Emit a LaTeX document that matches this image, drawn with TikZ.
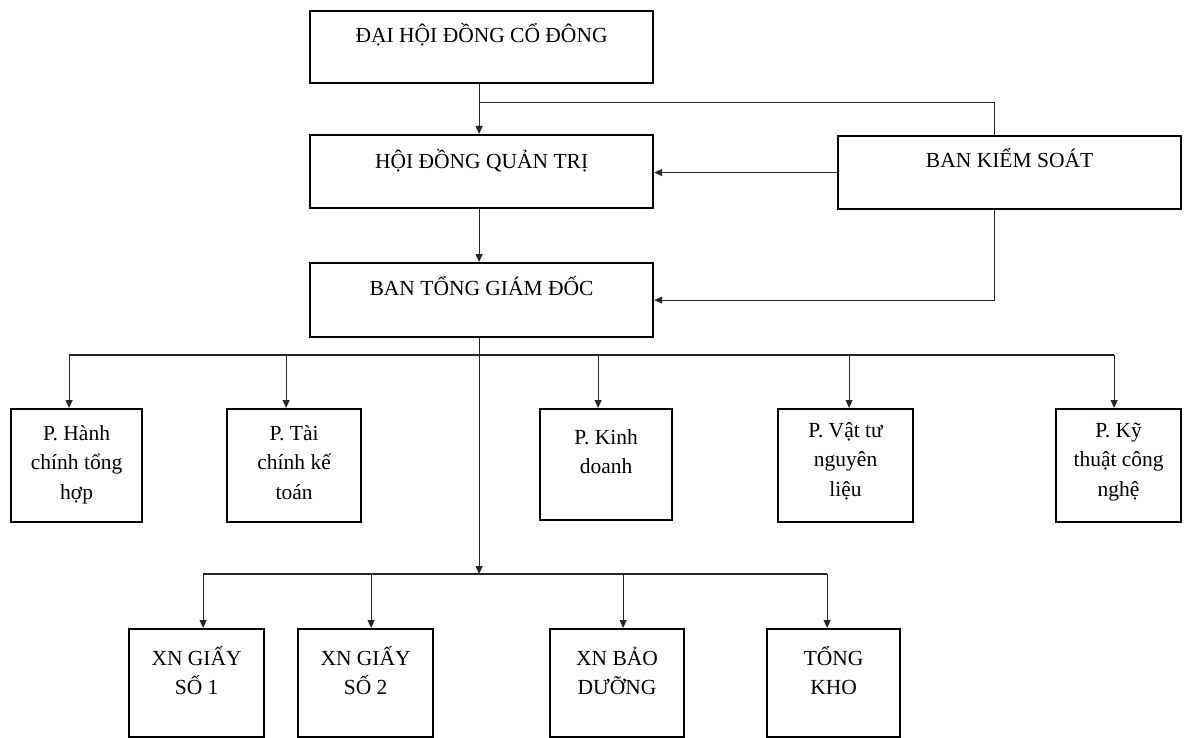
\documentclass[tikz,border=0pt]{standalone}
\usepackage{fontspec}
\setmainfont{Liberation Serif}
\usetikzlibrary{arrows.meta,calc}
\tikzset{
  box/.style={draw, line width=2.2pt, inner sep=0pt, anchor=north west},
  conn/.style={line width=1.1pt, draw=black!85},
  arr/.style={conn, -{Triangle[length=8pt,width=7pt]}},
  txt/.style={anchor=base, inner sep=0pt, font=\fontsize{21.5}{29.5}\selectfont},
}
\newcommand{\ml}[1]{\parbox[t]{124pt}{\centering #1}}
\begin{document}
\begin{tikzpicture}[x=1pt,y=-1pt]
\useasboundingbox (0,0) rectangle (1186,738);
% top level boxes
\node[box, minimum width=343pt, minimum height=72pt] (dh) at (309,10) {};
\node[box, minimum width=343pt, minimum height=73pt] (hd) at (309,134) {};
\node[box, minimum width=343pt, minimum height=73pt] (bks) at (837,135) {};
\node[box, minimum width=343pt, minimum height=74pt] (btgd) at (309,262) {};
\node[txt] (dht) at (dh.north |- 0,43) {ĐẠI HỘI ĐỒNG CỔ ĐÔNG};
\node[txt] (hdt) at (hd.north |- 0,169) {HỘI ĐỒNG QUẢN TRỊ};
\node[txt] (bkst) at (bks.north |- 0,168) {BAN KIỂM SOÁT};
\node[txt] (btgdt) at (btgd.north |- 0,295) {BAN TỔNG GIÁM ĐỐC};
% row 1
\node[box, minimum width=131pt, minimum height=113pt] (hc) at (10,408) {};
\node[box, minimum width=134pt, minimum height=113pt] (tc) at (226,408) {};
\node[box, minimum width=132pt, minimum height=111pt] (kd) at (539,408) {};
\node[box, minimum width=135pt, minimum height=113pt] (vt) at (777,408) {};
\node[box, minimum width=125pt, minimum height=113pt] (kt) at (1055,408) {};
\node[txt] (hct) at (hc.north |- 0,440) {\ml{P. Hành\\chính tổng\\hợp}};
\node[txt] (tct) at (tc.north |- 0,440) {\ml{P. Tài\\chính kế\\toán}};
\node[txt] (kdt) at (kd.north |- 0,444) {\ml{P. Kinh\\doanh}};
\node[txt] (vtt) at (vt.north |- 0,437) {\ml{P. Vật tư\\nguyên\\liệu}};
\node[txt] (ktt) at (kt.north |- 0,437) {\ml{P. Kỹ\\thuật công\\nghệ}};
% row 2
\node[box, minimum width=135pt, minimum height=108pt] (xn1) at (128,628) {};
\node[box, minimum width=135pt, minimum height=108pt] (xn2) at (297,628) {};
\node[box, minimum width=134pt, minimum height=108pt] (bd) at (549,628) {};
\node[box, minimum width=133pt, minimum height=108pt] (kho) at (766,628) {};
\node[txt] (xn1t) at (xn1.north |- 0,665) {\ml{XN GIẤY\\SỐ 1}};
\node[txt] (xn2t) at (xn2.north |- 0,665) {\ml{XN GIẤY\\SỐ 2}};
\node[txt] (bdt) at (bd.north |- 0,665) {\ml{XN BẢO\\DƯỠNG}};
\node[txt] (khot) at (kho.north |- 0,665) {\ml{TỔNG\\KHO}};
% helper coordinates
\coordinate (dhS) at ([xshift=-2.5pt]dh.south);
\coordinate (j1) at ($(dhS)+(0,18)$);
\coordinate (bksA) at ([xshift=-15.5pt]bks.north);
\coordinate (bksB) at ([xshift=-15.5pt]bks.south);
\coordinate (bus1) at (0,355);
\coordinate (bus2) at (0,574);
\coordinate (hcT) at ([xshift=-7.5pt]hc.north);
\coordinate (tcT) at ([xshift=-8pt]tc.north);
\coordinate (kdT) at ([xshift=-8pt]kd.north);
\coordinate (vtT) at ([xshift=3.5pt]vt.north);
\coordinate (ktT) at ([xshift=-4.5pt]kt.north);
\coordinate (xn1T) at ([xshift=6.5pt]xn1.north);
\coordinate (xn2T) at ([xshift=5.5pt]xn2.north);
\coordinate (bdT) at ([xshift=6pt]bd.north);
\coordinate (khoT) at ([xshift=-6.5pt]kho.north);
\coordinate (btS) at ([xshift=-2.5pt]btgd.south);
% connectors
\draw[arr] (dhS) -- (dhS |- hd.north);
\draw[conn] (j1) -| (bksA);
\draw[arr] (bks.west) -- (bks.west -| hd.east);
\draw[arr] ([xshift=-2.5pt]hd.south) -- (btgd.north -| btS);
\draw[arr] (bksB) |- (btgd.east);
\draw[arr] (btS) -- (btS |- bus2);
\draw[conn] (hcT |- bus1) -- (ktT |- bus1);
\foreach \t in {hcT,tcT,kdT,vtT,ktT} \draw[arr] (\t |- bus1) -- (\t);
\draw[conn] (xn1T |- bus2) -- (khoT |- bus2);
\foreach \t in {xn1T,xn2T,bdT,khoT} \draw[arr] (\t |- bus2) -- (\t);
\end{tikzpicture}
\end{document}
